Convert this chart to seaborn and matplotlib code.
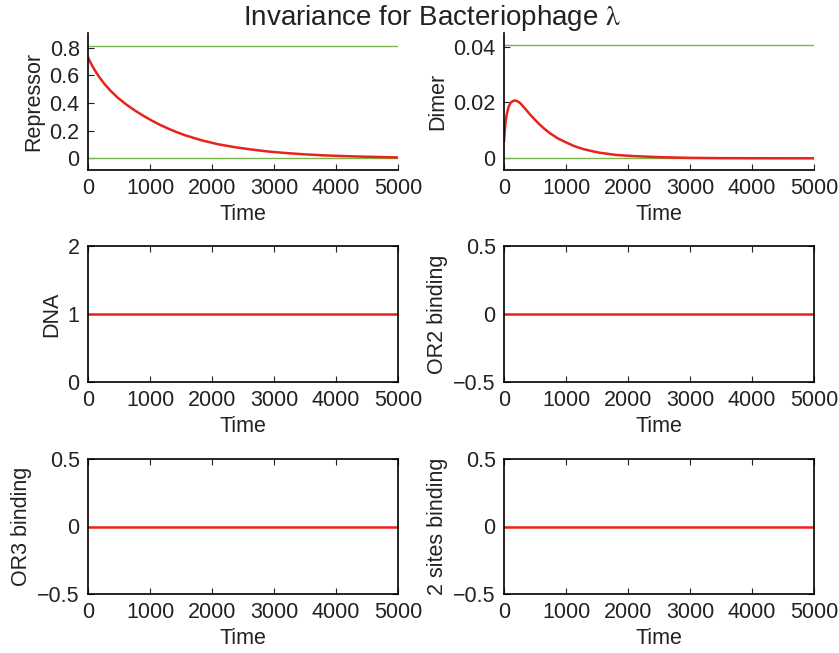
import numpy as np
import pandas as pd
import matplotlib
matplotlib.use("Agg")
import matplotlib.pyplot as plt
import seaborn as sns

# values
time_r = [0, 25, 50, 108, 180, 270, 370, 485, 620, 754, 890, 1023, 1160, 1300, 1430,
          1561, 1830, 2100, 2370, 2640, 2900, 3178, 3500, 3800, 4100, 4400, 4700, 5000]
repressor = [0.73, 0.706, 0.684, 0.638, 0.588, 0.535, 0.485, 0.436, 0.388, 0.346, 0.308,
             0.274, 0.242, 0.213, 0.189, 0.167, 0.13, 0.101, 0.08, 0.063, 0.049, 0.038,
             0.028, 0.021, 0.016, 0.012, 0.009, 0.006]
repressor_bounds = [0.0, 0.813]

time_d = [0, 5, 10, 25, 43, 75, 110, 150, 180, 220, 260, 340, 420, 500, 580, 660, 740,
          870, 1010, 1140, 1280, 1410, 1540, 1800, 2080, 2500, 3000, 3500, 4000, 4500,
          5000]
dimer = [0.006, 0.0078, 0.0092, 0.0128, 0.0156, 0.0185, 0.0200, 0.0206, 0.0207, 0.0204,
         0.0198, 0.0178, 0.0157, 0.0138, 0.0120, 0.0104, 0.0090, 0.0071, 0.0056, 0.0043,
         0.0033, 0.0026, 0.0020, 0.0012, 0.0008, 0.0004, 0.00015, 0.00005, 0.00002,
         0.0, 0.0]
dimer_bounds = [0.0, 0.0405]

time_c = [0, 5000]
dna = [1, 1]
or2 = [0, 0]
or3 = [0, 0]
two_sites = [0, 0]

RED = "#e8231b"
GREEN = "#7ab648"
FS = 15.5

sns.set_theme(style="ticks")
plt.rcParams["font.family"] = ["Liberation Sans", "DejaVu Sans"]
plt.rcParams["mathtext.fontset"] = "stix"
plt.rcParams["xtick.direction"] = "in"
plt.rcParams["ytick.direction"] = "in"

fig = plt.figure(figsize=(8.39, 6.53), dpi=100)

W, H = 839, 653
cols = [88, 504]
rows = [(33, 170), (246, 382), (459, 594)]
width = 310


def make_ax(col, row):
    top, bot = rows[row]
    return fig.add_axes([cols[col] / W, 1 - bot / H, width / W, (bot - top) / H])


def style(ax, ylabel, box):
    ax.set_xlim(0, 5000)
    ax.set_xticks([0, 1000, 2000, 3000, 4000, 5000])
    ax.set_xlabel("Time", fontsize=FS, labelpad=3, color="#222222")
    ax.set_ylabel(ylabel, fontsize=FS, labelpad=4, color="#222222")
    ax.tick_params(labelsize=FS, length=4, width=0.8, colors="#222222", pad=6,
                   top=box, right=box)
    for s in ax.spines.values():
        s.set_linewidth(1.2)
        s.set_color("black")
    if not box:
        ax.spines["top"].set_visible(False)
        ax.spines["right"].set_visible(False)


# Repressor
ax = make_ax(0, 0)
for b in repressor_bounds:
    ax.axhline(b, color=GREEN, lw=1.0)
sns.lineplot(x=time_r, y=repressor, ax=ax, color=RED, lw=1.8)
ax.set_ylim(-0.085, 0.906)
ax.set_yticks([0, 0.2, 0.4, 0.6, 0.8])
ax.set_yticklabels(["0", "0.2", "0.4", "0.6", "0.8"])
style(ax, "Repressor", False)

# Dimer
ax = make_ax(1, 0)
for b in dimer_bounds:
    ax.axhline(b, color=GREEN, lw=1.0)
sns.lineplot(x=time_d, y=dimer, ax=ax, color=RED, lw=1.8)
ax.set_ylim(-0.0042, 0.0449)
ax.set_yticks([0, 0.02, 0.04])
ax.set_yticklabels(["0", "0.02", "0.04"])
style(ax, "Dimer", False)

# constant quantities
panels = [
    (0, 1, dna, "DNA", (0, 2), [0, 1, 2], ["0", "1", "2"]),
    (1, 1, or2, "OR2 binding", (-0.5, 0.5), [-0.5, 0, 0.5], ["\u22120.5", "0", "0.5"]),
    (0, 2, or3, "OR3 binding", (-0.5, 0.5), [-0.5, 0, 0.5], ["\u22120.5", "0", "0.5"]),
    (1, 2, two_sites, "2 sites binding", (-0.5, 0.5), [-0.5, 0, 0.5], ["\u22120.5", "0", "0.5"]),
]
for col, row, vals, lab, lim, ticks, tlabs in panels:
    ax = make_ax(col, row)
    sns.lineplot(x=time_c, y=vals, ax=ax, color=RED, lw=1.8)
    ax.set_ylim(*lim)
    ax.set_yticks(ticks)
    ax.set_yticklabels(tlabs)
    style(ax, lab, True)

fig.text(0.515, 0.972, r"Invariance for Bacteriophage $\mathrm{\lambda}$", ha="center",
         va="center", fontsize=20, color="#222222")

fig.savefig("out.png", dpi=100)
